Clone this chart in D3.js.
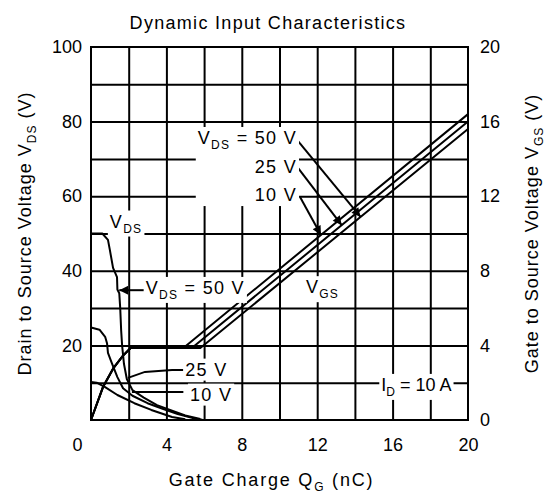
<!DOCTYPE html>
<html lang="en">
<head>
<meta charset="UTF-8">
<title>Dynamic Input Characteristics</title>
<script src="https://d3js.org/d3.v7.min.js"></script>
<style>
  body { margin: 0; background: #fff; }
  svg { display: block; font-family: "Liberation Sans", Arial, sans-serif; }
  .tick text { font-size: 18px; fill: #000; }
  .lbl { font-size: 18px; fill: #000; letter-spacing: 1.3px; }
</style>
</head>
<body>
<div id="chart"></div>
<script>
// tick values
const qgTicks = [0, 4, 8, 12, 16, 20];
const vdsTicks = [20, 40, 60, 80, 100];
const vgsTicks = [0, 4, 8, 12, 16, 20];

// drain-source voltage vs gate charge  [Qg nC, VDS V]
const vds50 = [[0,50],[0.6,50],[0.9,48.3],[1.0,45.6],[1.17,40.8],[1.38,38.3],[1.4,35],[1.5,34],[1.55,30],[1.6,24],[1.65,20],[1.75,15],[1.9,11],[2.2,8],[2.8,6],[3.5,4],[4.3,2.5],[5.0,1.2],[5.8,0.3]];
const vds25 = [[0,24.8],[0.45,24.2],[0.75,22.3],[0.85,20.6],[0.9,18],[1.1,15.3],[1.4,11.5],[1.7,8.5],[2.2,6.5],[3.0,4.5],[3.8,3],[4.6,1.6],[5.4,0.5],[5.9,0.1]];
const vds10 = [[0,10.2],[0.3,10],[0.75,8.8],[1.4,6.7],[2.3,4.5],[3.2,2.7],[4.3,0.8],[5.0,0.2]];

// gate-source voltage vs gate charge  [Qg nC, VGS V]
const vgs10 = [[0,0],[0.65,1.8],[1.2,2.8],[1.7,3.45],[2.1,3.86],[4.9,3.86],[20,16.4]];
const vgs25 = [[0,0],[0.65,1.8],[1.2,2.8],[1.7,3.45],[2.1,3.86],[5.35,3.86],[20,16.0]];
const vgs50 = [[0,0],[0.65,1.8],[1.2,2.8],[1.7,3.45],[2.1,3.86],[5.8,3.86],[20,15.6]];

const W = 551, H = 493;
const margin = { top: 47, right: 83, bottom: 73, left: 91 };
const width = W - margin.left - margin.right;
const height = H - margin.top - margin.bottom;

const x = d3.scaleLinear().domain([0, 20]).range([0, width]);
const yL = d3.scaleLinear().domain([0, 100]).range([height, 0]);
const yR = d3.scaleLinear().domain([0, 20]).range([height, 0]);

const svg = d3.select('#chart').append('svg')
  .attr('width', W).attr('height', H)
  .style('background', '#fff');

const defs = svg.append('defs');
defs.append('marker')
  .attr('id', 'arr')
  .attr('viewBox', '0 0 10 10')
  .attr('refX', 10).attr('refY', 5)
  .attr('markerWidth', 13).attr('markerHeight', 9)
  .attr('markerUnits', 'userSpaceOnUse')
  .attr('orient', 'auto')
  .append('path').attr('d', 'M0,0L10,5L0,10z').attr('fill', '#000');

const g = svg.append('g').attr('transform', `translate(${margin.left},${margin.top})`);

// grid
g.append('g')
  .call(d3.axisBottom(x).tickValues(d3.range(2, 20, 2)).tickSize(height).tickFormat(''))
  .call(s => s.select('.domain').remove())
  .selectAll('line').attr('stroke', '#000').attr('stroke-width', 2);
g.append('g')
  .call(d3.axisLeft(yL).tickValues(d3.range(10, 100, 10)).tickSize(-width).tickFormat(''))
  .call(s => s.select('.domain').remove())
  .selectAll('line').attr('stroke', '#000').attr('stroke-width', 2);

// frame
g.append('rect').attr('width', width).attr('height', height)
  .attr('fill', 'none').attr('stroke', '#000').attr('stroke-width', 2);

// tick labels
g.append('g').attr('transform', `translate(0,${height})`)
  .call(d3.axisBottom(x).tickValues(qgTicks).tickSize(0).tickPadding(18))
  .call(s => s.select('.domain').remove())
  .selectAll('.tick text').attr('dx', d => d === 0 ? -14 : 0);
g.append('g')
  .call(d3.axisLeft(yL).tickValues(vdsTicks).tickSize(0).tickPadding(9))
  .call(s => s.select('.domain').remove());
g.append('g').attr('transform', `translate(${width},0)`)
  .call(d3.axisRight(yR).tickValues(vgsTicks).tickSize(0).tickPadding(12))
  .call(s => s.select('.domain').remove());

// curves
const lineL = d3.line().x(d => x(d[0])).y(d => yL(d[1]));
const lineR = d3.line().x(d => x(d[0])).y(d => yR(d[1]));

[vds50, vds25, vds10].forEach(c => {
  g.append('path').datum(c).attr('d', lineL)
    .attr('fill', 'none').attr('stroke', '#000').attr('stroke-width', 2)
    .attr('stroke-linejoin', 'round');
});
[vgs10, vgs25, vgs50].forEach(c => {
  g.append('path').datum(c).attr('d', lineR)
    .attr('fill', 'none').attr('stroke', '#000').attr('stroke-width', 2)
    .attr('stroke-linejoin', 'round');
});

// value of a polyline at q
function valueAt(c, q) {
  for (let i = 1; i < c.length; i++) {
    if (q <= c[i][0]) {
      const t = (q - c[i - 1][0]) / (c[i][0] - c[i - 1][0]);
      return c[i - 1][1] + t * (c[i][1] - c[i - 1][1]);
    }
  }
  return c[c.length - 1][1];
}

// leaders and arrows (label end [Qg, VDS], target on curve)
const arrowsVgs = [
  { from: [10.93, 75.1], curve: vgs50, q: 14.3 },
  { from: [10.98, 67.6], curve: vgs25, q: 13.3 },
  { from: [11.09, 59.8], curve: vgs10, q: 12.2 }
];
arrowsVgs.forEach(a => {
  g.append('line')
    .attr('x1', x(a.from[0])).attr('y1', yL(a.from[1]))
    .attr('x2', x(a.q)).attr('y2', yR(valueAt(a.curve, a.q)))
    .attr('stroke', '#000').attr('stroke-width', 2)
    .attr('marker-end', 'url(#arr)');
});
g.append('line')
  .attr('x1', x(2.86)).attr('y1', yL(34.8))
  .attr('x2', x(1.5)).attr('y2', yL(34.8))
  .attr('stroke', '#000').attr('stroke-width', 2)
  .attr('marker-end', 'url(#arr)');

const leader25 = [[1.96, 11.3], [2.86, 12.9], [4.3, 13.4], [4.9, 13.4]];
const leader10 = [[2.17, 7.5], [4.9, 7.5]];
[leader25, leader10].forEach(c => {
  g.append('path').datum(c).attr('d', lineL)
    .attr('fill', 'none').attr('stroke', '#000').attr('stroke-width', 2);
});

// labels: parts [text, subscript?], anchor in [Qg, VDS]
const labels = [
  { grp: 'a', parts: [['V'], ['DS', 1], [' = 50 V']], at: [10.93, 74], anchor: 'end' },
  { grp: 'a', parts: [['25 V']], at: [10.93, 66.1], anchor: 'end' },
  { grp: 'a', parts: [['10 V']], at: [10.93, 58.7], anchor: 'end' },
  { grp: 'b', parts: [['V'], ['DS', 1]], at: [1.0, 51.6], anchor: 'start' },
  { grp: 'c', parts: [['V'], ['DS', 1], [' = 50 V']], at: [2.9, 33.8], anchor: 'start' },
  { grp: 'd', parts: [['25 V']], at: [5.0, 11.9], anchor: 'start' },
  { grp: 'e', parts: [['10 V']], at: [5.25, 5.2], anchor: 'start' },
  { grp: 'f', parts: [['V'], ['GS', 1]], at: [11.4, 34], anchor: 'start' },
  { grp: 'h', parts: [['I'], ['D', 1], [' = 10 A']], at: [15.4, 7.8], anchor: 'start', tight: 1 }
];

function addParts(t, parts) {
  let shifted = false;
  parts.forEach(p => {
    const ts = t.append('tspan').text(p[0]);
    if (p[1]) { ts.attr('dy', 5).style('font-size', '12px'); shifted = true; }
    else if (shifted) { ts.attr('dy', -5); shifted = false; }
  });
}

const groups = d3.group(labels, d => d.grp);
groups.forEach(list => {
  const lg = g.append('g');
  list.forEach(l => {
    const t = lg.append('text').attr('class', 'lbl')
      .attr('x', x(l.at[0])).attr('y', yL(l.at[1]))
      .attr('text-anchor', l.anchor);
    if (l.tight) t.style('letter-spacing', '0px');
    addParts(t, l.parts);
  });
  const bb = lg.node().getBBox();
  lg.insert('rect', ':first-child')
    .attr('x', bb.x - 2).attr('y', bb.y - 1)
    .attr('width', bb.width + 4).attr('height', bb.height + 2)
    .attr('fill', '#fff');
});

// titles
svg.append('text').attr('class', 'lbl')
  .attr('x', 268).attr('y', 29).attr('text-anchor', 'middle')
  .text('Dynamic Input Characteristics');

const xt = svg.append('text').attr('class', 'lbl')
  .attr('x', margin.left + width / 2 - 8).attr('y', 486).attr('text-anchor', 'middle')
  .style('letter-spacing', '1.8px');
addParts(xt, [['Gate Charge  Q'], ['G', 1], ['  (nC)']]);

const ylt = svg.append('text').attr('class', 'lbl')
  .attr('transform', `translate(31,${margin.top + height / 2})rotate(-90)`)
  .attr('text-anchor', 'middle').style('letter-spacing', '1px');
addParts(ylt, [['Drain to Source Voltage  V'], ['DS', 1], ['  (V)']]);

const yrt = svg.append('text').attr('class', 'lbl')
  .attr('transform', `translate(538,${margin.top + height / 2})rotate(-90)`)
  .attr('text-anchor', 'middle').style('letter-spacing', '1px');
addParts(yrt, [['Gate to Source Voltage  V'], ['GS', 1], ['  (V)']]);
</script>
</body>
</html>
